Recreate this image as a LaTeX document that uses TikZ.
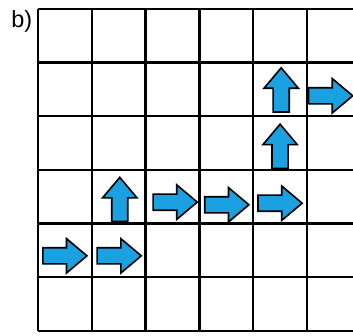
\documentclass[tikz,border=0pt]{standalone}
\usepackage{fontspec}
\setmainfont{Liberation Sans}
\definecolor{arrowblue}{RGB}{27,160,226}
\tikzset{
	arrowfill/.style={fill=arrowblue,draw=black,line width=1.4pt,line join=miter},
	blockarrow/.pic={
		\filldraw[arrowfill] (-0.41,-0.15) -- (0.03,-0.15) -- (0.03,-0.32) -- (0.41,0)
			-- (0.03,0.32) -- (0.03,0.15) -- (-0.41,0.15) -- cycle;
	}
}

\begin{document}
\begin{tikzpicture}[x=1.613cm,y=1.61cm]
		\useasboundingbox (-0.706,-0.075) rectangle (5.855,6.164);
		\clip (-0.706,-0.075) rectangle (5.855,6.164);
		\draw[line width=2pt,step={(1,1)}] (0,0) grid (7,6);
		\node[font=\fontsize{20}{24}\selectfont] (lbl) at (-0.3,5.77) {b)};
		% path of the arrows
		\pic at (0.50,1.40) {blockarrow};
		\pic at (1.51,1.40) {blockarrow};
		\pic[rotate=90] at (1.52,2.45) {blockarrow};
		\pic at (2.55,2.40) {blockarrow};
		\pic at (3.51,2.35) {blockarrow};
		\pic at (4.50,2.38) {blockarrow};
		\pic[rotate=90] at (4.50,3.44) {blockarrow};
		\pic[rotate=90] at (4.52,4.49) {blockarrow};
		\pic at (5.44,4.38) {blockarrow};
	\end{tikzpicture}
\end{document}
